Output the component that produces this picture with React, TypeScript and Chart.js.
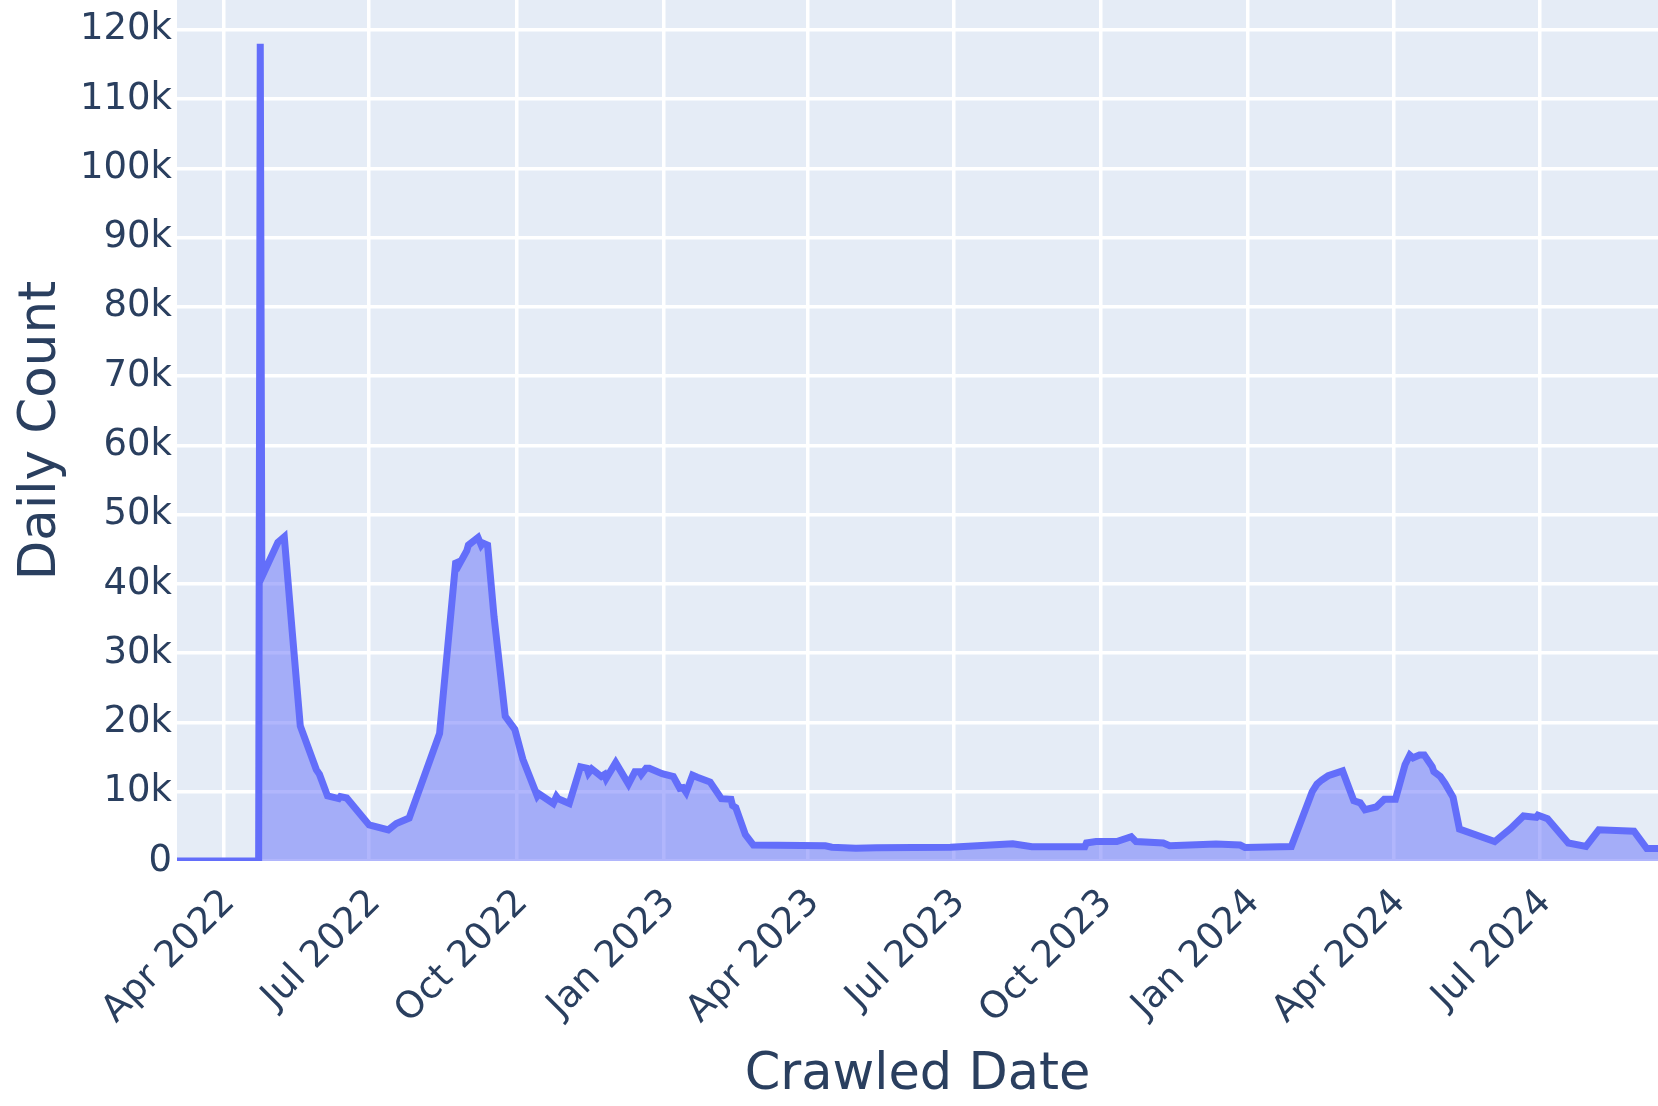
import React, { useEffect, useRef } from "react";
import { Chart, registerables } from "chart.js";

Chart.register(...registerables);

// Daily counts by crawled date
const DATES = [
  "2022-03-03", "2022-04-23", "2022-04-24", "2022-04-25", "2022-05-05", "2022-05-09",
  "2022-05-14", "2022-05-19", "2022-05-29", "2022-05-31", "2022-06-05", "2022-06-12",
  "2022-06-13", "2022-06-17", "2022-07-01", "2022-07-13", "2022-07-18", "2022-07-26",
  "2022-08-14", "2022-08-24", "2022-08-25", "2022-08-26", "2022-08-31", "2022-09-01",
  "2022-09-07", "2022-09-09", "2022-09-10", "2022-09-13", "2022-09-17", "2022-09-24",
  "2022-09-30", "2022-10-05", "2022-10-14", "2022-10-15", "2022-10-24", "2022-10-26",
  "2022-10-27", "2022-11-03", "2022-11-10", "2022-11-14", "2022-11-15", "2022-11-17",
  "2022-11-23", "2022-11-25", "2022-11-26", "2022-12-02", "2022-12-10", "2022-12-14",
  "2022-12-17", "2022-12-18", "2022-12-21", "2022-12-23", "2022-12-31", "2023-01-07",
  "2023-01-11", "2023-01-13", "2023-01-15", "2023-01-19", "2023-01-22", "2023-01-30",
  "2023-02-06", "2023-02-12", "2023-02-13", "2023-02-15", "2023-02-21", "2023-02-26",
  "2023-04-12", "2023-04-16", "2023-05-01", "2023-05-14", "2023-06-29", "2023-08-07",
  "2023-08-19", "2023-09-21", "2023-09-22", "2023-09-28", "2023-10-11", "2023-10-20",
  "2023-10-23", "2023-11-09", "2023-11-13", "2023-12-12", "2023-12-27", "2023-12-30",
  "2024-01-28", "2024-02-10", "2024-02-13", "2024-02-16", "2024-02-20", "2024-02-29",
  "2024-03-07", "2024-03-11", "2024-03-14", "2024-03-21", "2024-03-26", "2024-04-02",
  "2024-04-08", "2024-04-11", "2024-04-13", "2024-04-17", "2024-04-20", "2024-04-25",
  "2024-04-26", "2024-04-30", "2024-05-03", "2024-05-08", "2024-05-12", "2024-06-03",
  "2024-06-13", "2024-06-21", "2024-06-29", "2024-06-30", "2024-07-06", "2024-07-19",
  "2024-07-30", "2024-08-07", "2024-08-29", "2024-09-06", "2024-09-13",
];

const COUNTS = [
  0, 0, 118000, 41000, 46000, 46800,
  33000, 19500, 13200, 12500, 9400, 9000,
  9300, 9100, 5200, 4500, 5400, 6200,
  18400, 43000, 43100, 42700, 44800, 45600,
  46700, 45600, 45900, 45600, 35300, 20900,
  19000, 14700, 9400, 9700, 8300, 9300,
  9000, 8300, 13600, 13400, 12700, 13300,
  12200, 12500, 11900, 14200, 11100, 12900,
  12900, 12500, 13400, 13400, 12600, 12200,
  10500, 10600, 9900, 12400, 12100, 11400,
  9000, 8900, 8000, 7700, 3800, 2300,
  2200, 2000, 1850, 1900, 2000, 2500,
  2050, 2050, 2600, 2800, 2800, 3500,
  2800, 2600, 2200, 2450, 2300, 1950,
  2100, 10000, 11100, 11700, 12300, 13000,
  8700, 8400, 7400, 7800, 8900, 8900,
  13900, 15300, 14900, 15300, 15300, 13600,
  12900, 12200, 11200, 9200, 4600, 2800,
  4700, 6500, 6300, 6600, 6100, 2600,
  2100, 4500, 4300, 1800, 1800,
];

const X_TICK_DATES = [
  "2022-04-01", "2022-07-01", "2022-10-01", "2023-01-01", "2023-04-01",
  "2023-07-01", "2023-10-01", "2024-01-01", "2024-04-01", "2024-07-01",
];
const X_TICK_LABELS = [
  "Apr 2022", "Jul 2022", "Oct 2022", "Jan 2023", "Apr 2023",
  "Jul 2023", "Oct 2023", "Jan 2024", "Apr 2024", "Jul 2024",
];
const Y_TICKS = [0, 10000, 20000, 30000, 40000, 50000, 60000, 70000, 80000, 90000, 100000, 110000, 120000];
const Y_TICK_LABELS = ["0", "10k", "20k", "30k", "40k", "50k", "60k", "70k", "80k", "90k", "100k", "110k", "120k"];
const Y_MAX = 124300;

const toMs = (s: string) => Date.parse(s + "T00:00:00Z");

const TEXT_COLOR = "#2a3f5f";
const FONT = "DejaVu Sans";

export default function App() {
  const ref = useRef<HTMLCanvasElement | null>(null);

  useEffect(() => {
    if (!ref.current) return;
    const points = DATES.map((d, i) => ({ x: toMs(d), y: COUNTS[i] }));
    const xTickValues = X_TICK_DATES.map(toMs);

    const plotBg = {
      id: "plotBg",
      beforeDraw(chart: any) {
        const { ctx, chartArea } = chart;
        if (!chartArea) return;
        ctx.save();
        ctx.fillStyle = "#E5ECF6";
        ctx.fillRect(chartArea.left, chartArea.top, chartArea.right - chartArea.left, chartArea.bottom - chartArea.top);
        ctx.restore();
      },
    };

    const chart = new Chart(ref.current, {
      type: "line",
      data: {
        datasets: [
          {
            data: points,
            borderColor: "#636EFA",
            backgroundColor: "rgba(99,110,250,0.5)",
            fill: "origin",
            borderWidth: 7,
            pointRadius: 0,
            tension: 0,
          },
        ],
      },
      options: {
        responsive: false,
        animation: false,
        devicePixelRatio: 1,
        layout: { padding: 0 },
        plugins: {
          legend: { display: false },
          tooltip: { enabled: false },
        },
        scales: {
          x: {
            type: "linear",
            min: toMs(DATES[0]),
            max: toMs(DATES[DATES.length - 1]),
            afterBuildTicks: (s: any) => {
              s.ticks = xTickValues.map((v) => ({ value: v }));
            },
            afterFit: (s: any) => {
              s.height = 245;
              s.paddingLeft = 0;
              s.paddingRight = 0;
            },
            ticks: {
              autoSkip: false,
              minRotation: 45,
              maxRotation: 45,
              padding: 20,
              labelOffset: 6,
              color: TEXT_COLOR,
              font: { family: FONT, size: 37 },
              callback: (v: any) => {
                const i = xTickValues.indexOf(Number(v));
                return i >= 0 ? X_TICK_LABELS[i] : "";
              },
            },
            grid: { color: "#ffffff", lineWidth: 3.5, drawTicks: false },
            border: { display: false },
            title: {
              display: true,
              text: "Crawled Date",
              color: TEXT_COLOR,
              font: { family: FONT, size: 51 },
              padding: { top: 0, bottom: 0 },
            },
          },
          y: {
            type: "linear",
            min: 0,
            max: Y_MAX,
            afterBuildTicks: (s: any) => {
              s.ticks = Y_TICKS.map((v) => ({ value: v }));
            },
            afterFit: (s: any) => {
              s.width = 177;
              s.paddingTop = 0;
              s.paddingBottom = 0;
            },
            ticks: {
              autoSkip: false,
              padding: 5,
              color: TEXT_COLOR,
              font: { family: FONT, size: 37 },
              callback: (v: any) => {
                const i = Y_TICKS.indexOf(Number(v));
                return i >= 0 ? Y_TICK_LABELS[i] : "";
              },
            },
            grid: { color: "#ffffff", lineWidth: 3.5, drawTicks: false },
            border: { display: false },
            title: {
              display: true,
              text: "Daily Count",
              color: TEXT_COLOR,
              font: { family: FONT, size: 51.5 },
              padding: { top: 11, bottom: 0 },
            },
          },
        },
      },
      plugins: [plotBg],
    } as any);

    return () => chart.destroy();
  }, []);

  return (
    <div style={{ position: "absolute", left: 0, top: 0, width: 1658, height: 1106, background: "#ffffff" }}>
      <canvas ref={ref} width={1658} height={1106} style={{ width: 1658, height: 1106, display: "block" }} />
    </div>
  );
}
